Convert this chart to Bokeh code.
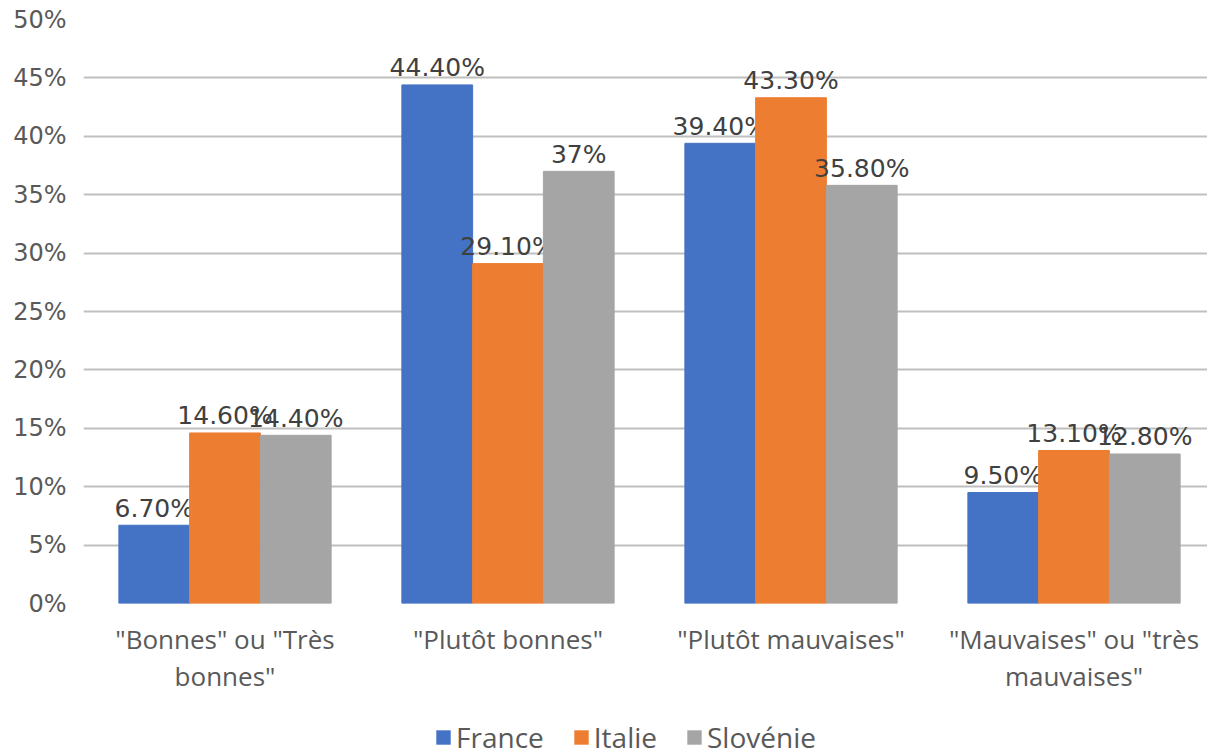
from bokeh.plotting import figure
from bokeh.models import Range1d, FixedTicker, PrintfTickFormatter, Legend, LegendItem, ColumnDataSource
from bokeh.layouts import column
from bokeh.core.properties import value
from bokeh.embed import file_html
from bokeh.resources import INLINE

categories = ['"Bonnes" ou "Très\nbonnes"', '"Plutôt bonnes"', '"Plutôt mauvaises"', '"Mauvaises" ou "très\nmauvaises"']
series = ["France", "Italie", "Slovénie"]
france = [6.7, 44.4, 39.4, 9.5]
italie = [14.6, 29.1, 43.3, 13.1]
slovenie = [14.4, 37.0, 35.8, 12.8]
france_labels = ["6.70%", "44.40%", "39.40%", "9.50%"]
italie_labels = ["14.60%", "29.10%", "43.30%", "13.10%"]
slovenie_labels = ["14.40%", "37%", "35.80%", "12.80%"]
y_ticks = [0, 5, 10, 15, 20, 25, 30, 35, 40, 45, 50]

colors = ["#4472C4", "#ED7D31", "#A5A5A5"]
offsets = [-0.25, 0.0, 0.25]
FONT = "Open Sans"
NUMFONT = "DejaVu Sans"

p = figure(width=1207, height=706, output_backend="svg", toolbar_location=None,
           x_range=Range1d(0, 1124 / 283), y_range=Range1d(0, 50),
           min_border_left=83, min_border_right=0, min_border_top=19, min_border_bottom=103)
p.outline_line_color = None
p.background_fill_color = "white"
p.border_fill_color = "white"

for name, vals, labs, col, off in zip(series, [france, italie, slovenie],
                                       [france_labels, italie_labels, slovenie_labels], colors, offsets):
    xs = [i + 0.5 + off for i in range(len(categories))]
    src = ColumnDataSource(dict(x=xs, top=vals, lab=labs))
    p.vbar(x="x", top="top", width=0.25, source=src, fill_color=col, line_color=col)
    p.text(x="x", y="top", text="lab", source=src, text_align="center", text_baseline="middle",
           y_offset=-17, text_font=value(NUMFONT), text_font_size="25px", text_color="#404040")

p.xgrid.grid_line_color = None
p.ygrid.grid_line_color = "#BFBFBF"
p.ygrid.grid_line_width = 2
p.yaxis.ticker = FixedTicker(ticks=y_ticks)
p.yaxis.formatter = PrintfTickFormatter(format="%d%%")
p.xaxis.ticker = FixedTicker(ticks=[i + 0.5 for i in range(len(categories))])
p.xaxis.major_label_overrides = {i + 0.5: c for i, c in enumerate(categories)}
for ax in (p.xaxis, p.yaxis):
    ax.axis_line_color = None
    ax.major_tick_line_color = None
    ax.minor_tick_line_color = None
    ax.major_label_text_color = "#595959"
p.xaxis.major_label_text_font = FONT
p.xaxis.major_label_text_font_size = "26px"
p.xaxis.major_label_text_line_height = 1.03
p.yaxis.major_label_text_font = NUMFONT
p.yaxis.major_label_text_font_size = "24px"
p.yaxis.major_label_standoff = 11
p.xaxis.major_label_standoff = 11

# legend in a separate strip below the chart
lf = figure(width=1207, height=50, output_backend="svg", toolbar_location=None,
            x_range=Range1d(0, 1), y_range=Range1d(0, 1),
            min_border_left=0, min_border_right=0, min_border_top=0, min_border_bottom=0)
lf.axis.visible = False
lf.grid.visible = False
lf.outline_line_color = None
items = []
for name, col in zip(series, colors):
    r = lf.vbar(x=[0.5], top=[0], bottom=[0], width=0.0, fill_color=col, line_color=col, line_alpha=0)
    items.append(LegendItem(label=name, renderers=[r]))
legend = Legend(items=items, orientation="horizontal", location=(351, 0),
                label_text_font=FONT, label_text_font_size="28px", label_text_color="#595959",
                glyph_width=18, glyph_height=18, label_standoff=4, spacing=28,
                border_line_color=None, background_fill_alpha=0, padding=0, margin=0)
lf.add_layout(legend)

open("out.html", "w").write(file_html(column(p, lf, spacing=0), INLINE))
